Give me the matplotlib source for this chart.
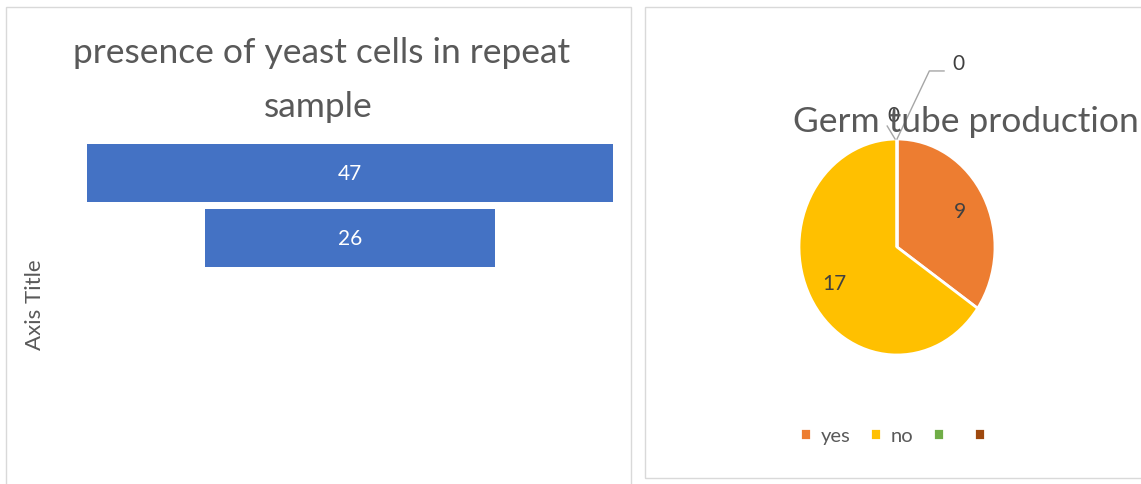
import matplotlib.pyplot as plt
from matplotlib.patches import Rectangle
import numpy as np

# funnel (left panel)
bar_values = [47, 26]
bar_title = ["presence of yeast cells in repeat", "sample"]
bar_axis_title = "Axis Title"

# pie (right panel)
pie_labels = ["yes", "no", "", ""]
pie_values = [9, 17, 0, 0]
pie_title = "Germ tube production"

BLUE = "#4472C4"
PIE_COLORS = ["#ED7D31", "#FFC000", "#70AD47", "#9E480E"]
GREY_TEXT = "#595959"
LABEL_TEXT = "#404040"

plt.rcParams["font.family"] = ["Lato", "DejaVu Sans"]

W, H = 1141, 485
fig = plt.figure(figsize=(W / 100, H / 100), dpi=100)


def px_axes(x0, y0, x1, y1):
    # axes from pixel box (y measured from top)
    return fig.add_axes([x0 / W, 1 - y1 / H, (x1 - x0) / W, (y1 - y0) / H])


def fy(y):
    return 1 - y / H


# panel borders
fig.patches.append(Rectangle((6 / W, -0.05), 625 / W, 1.05 - 8 / H,
                             transform=fig.transFigure, fill=False,
                             edgecolor="#D9D9D9", lw=1))
fig.patches.append(Rectangle((645 / W, fy(479)), 500 / W, 471 / H,
                             transform=fig.transFigure, fill=False,
                             edgecolor="#D9D9D9", lw=1))

# ---- funnel chart ----
ax = px_axes(87, 142, 613, 470)
half = max(bar_values) / 2
ypos = np.arange(len(bar_values))
vals = np.array(bar_values)
ax.barh(ypos, vals, left=-vals / 2, height=58 / 65, color=BLUE)
for y, v in zip(ypos, vals):
    ax.text(0, y, str(v), ha="center", va="center", color="white", fontsize=15)
ax.set_xlim(-half, half)
ax.set_ylim(470 / 65 - 174 / 65, -32 / 65)
ax.axis("off")

fig.text(322 / W, fy(63), bar_title[0], ha="center", va="baseline",
         fontsize=25.5, color=GREY_TEXT)
fig.text(318 / W, fy(117), bar_title[1], ha="center", va="baseline",
         fontsize=25.5, color=GREY_TEXT)
fig.text(35 / W, fy(305), bar_axis_title, rotation=90, ha="center",
         va="center", fontsize=16, color=GREY_TEXT)

# ---- pie chart ----
cx, cy, rx, ry = 897, 248, 98, 108
pax = px_axes(cx - 2 * rx, cy - 2 * ry, cx + 2 * rx, cy + 2 * ry)
total = sum(pie_values)
wedges, texts, autotexts = pax.pie(
    pie_values, colors=PIE_COLORS, startangle=90, counterclock=False,
    autopct=lambda p: f"{round(p * total / 100):d}" if p > 0 else "",
    pctdistance=0.72, wedgeprops=dict(edgecolor="white", linewidth=2),
    textprops=dict(fontsize=15, color=LABEL_TEXT))
pax.set_aspect("auto")
pax.set_xlim(-2, 2)
pax.set_ylim(-2, 2)
pax.axis("off")

# zero-value labels with leader lines
zero_idx = [i for i, v in enumerate(pie_values) if v == 0]
label_pos = [(-0.04, 1.22), (0.63, 1.7)]
for i, (lx, ly) in zip(zero_idx, label_pos):
    pax.text(lx, ly, "0", ha="center", va="center", fontsize=15, color=LABEL_TEXT)
pax.plot([-0.1, -0.02], [1.12, 1.0], color="#A6A6A6", lw=1)
pax.plot([0.0, 0.33, 0.48], [1.0, 1.63, 1.63], color="#A6A6A6", lw=1)

fig.text(966 / W, fy(132), pie_title, ha="center", va="baseline",
         fontsize=25.5, color=GREY_TEXT)

leg = fig.legend(wedges, pie_labels, loc="center", ncol=4,
                 bbox_to_anchor=(897 / W, fy(437)), frameon=False,
                 handlelength=0.55, handleheight=0.55, handletextpad=0.45,
                 columnspacing=1.0, fontsize=14.5)
for t in leg.get_texts():
    t.set_color(GREY_TEXT)

fig.savefig("out.png", dpi=100, facecolor="white")
